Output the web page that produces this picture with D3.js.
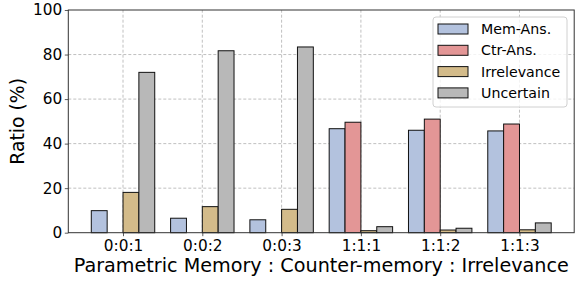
<!DOCTYPE html>
<html>
<head>
<meta charset="utf-8">
<script src="https://cdn.jsdelivr.net/npm/d3@7"></script>
<style>
  body { margin: 0; background: #fff; }
  svg { display: block; font-family: "DejaVu Sans", sans-serif; }
</style>
</head>
<body>
<div id="chart"></div>
<script>
/* Grouped bar chart: answer ratio by evidence mix */

var categories = ['0:0:1', '0:0:2', '0:0:3', '1:1:1', '1:1:2', '1:1:3'];
var seriesNames = ['Mem-Ans.', 'Ctr-Ans.', 'Irrelevance', 'Uncertain'];
var memAns = [9.9, 6.5, 5.8, 46.7, 46.0, 45.7];
var ctrAns = [0, 0, 0, 49.6, 51.0, 48.8];
var irrelevance = [18.1, 11.7, 10.5, 0.9, 1.2, 1.3];
var uncertain = [72.0, 81.7, 83.4, 2.7, 2.0, 4.4];
var yTicks = [0, 20, 40, 60, 80, 100];

var colors = ['#b3c2de', '#e39696', '#d3bb8a', '#b8b8b8'];
var series = [memAns, ctrAns, irrelevance, uncertain];

var width = 575;
var height = 282;
var margin = {left: 68.3, right: 0.8, top: 10, bottom: 49.3};

var svg = d3.select('#chart').append('svg')
  .attr('width', width)
  .attr('height', height);

var x = d3.scaleLinear()
  .domain([-0.69, categories.length - 1 + 0.69])
  .range([margin.left, width - margin.right]);
var y = d3.scaleLinear()
  .domain([0, 100])
  .range([height - margin.bottom, margin.top]);

var barW = 0.2;
var offsets = [-0.3, -0.1, 0.1, 0.3];

// grid
var grid = svg.append('g');
grid.selectAll('.hgrid').data(yTicks.slice(1, -1)).enter()
  .append('line')
  .attr('x1', x.range()[0]).attr('x2', x.range()[1])
  .attr('y1', function(d) { return y(d); })
  .attr('y2', function(d) { return y(d); })
  .attr('stroke', '#b0b0b0').attr('stroke-width', 0.8)
  .attr('stroke-dasharray', '3,2');
grid.selectAll('.vgrid').data(categories).enter()
  .append('line')
  .attr('x1', function(d, i) { return x(i); })
  .attr('x2', function(d, i) { return x(i); })
  .attr('y1', y(0)).attr('y2', y(100))
  .attr('stroke', '#b0b0b0').attr('stroke-width', 0.8)
  .attr('stroke-dasharray', '3,2');

// bars
series.forEach(function(vals, s) {
  svg.append('g').selectAll('rect').data(vals).enter()
    .append('rect')
    .attr('x', function(d, i) { return x(i + offsets[s] - barW / 2); })
    .attr('width', x(barW) - x(0))
    .attr('y', function(d) { return y(d); })
    .attr('height', function(d) { return y(0) - y(d); })
    .attr('fill', colors[s])
    .attr('stroke', '#111')
    .attr('stroke-width', 1);
});

// axes
var xAxis = d3.axisBottom(x)
  .tickValues(d3.range(categories.length))
  .tickFormat(function(i) { return categories[i]; })
  .tickSize(3.5).tickPadding(3.9);
var yAxis = d3.axisLeft(y)
  .tickValues(yTicks)
  .tickSize(3.5).tickPadding(2.5);

var gx = svg.append('g')
  .attr('transform', 'translate(0,' + y(0) + ')')
  .call(xAxis);
var gy = svg.append('g')
  .attr('transform', 'translate(' + margin.left + ',0)')
  .call(yAxis);
[gx, gy].forEach(function(g) {
  g.select('.domain').remove();
  g.selectAll('text').attr('font-size', 15.3).attr('fill', '#000')
    .attr('font-family', '"DejaVu Sans", sans-serif');
  g.selectAll('line').attr('stroke', '#333').attr('stroke-width', 0.8);
});

// frame
svg.append('rect')
  .attr('x', x.range()[0]).attr('y', y(100))
  .attr('width', x.range()[1] - x.range()[0])
  .attr('height', y(0) - y(100))
  .attr('fill', 'none').attr('stroke', '#333').attr('stroke-width', 1);

// labels
svg.append('text')
  .attr('x', (x.range()[0] + x.range()[1]) / 2)
  .attr('y', 271.7)
  .attr('text-anchor', 'middle')
  .attr('font-size', 19.2)
  .text('Parametric Memory : Counter-memory : Irrelevance');

svg.append('text')
  .attr('transform', 'translate(24,' + (y(0) + y(100)) / 2 + ') rotate(-90)')
  .attr('text-anchor', 'middle')
  .attr('font-size', 18.8)
  .text('Ratio (%)');

// legend
var lg = svg.append('g').attr('transform', 'translate(433,17)');
lg.append('rect')
  .attr('width', 134).attr('height', 90)
  .attr('rx', 3).attr('ry', 3)
  .attr('fill', '#fff').attr('fill-opacity', 0.8)
  .attr('stroke', '#d0d0d0').attr('stroke-width', 1);
seriesNames.forEach(function(name, i) {
  var row = lg.append('g').attr('transform', 'translate(0,' + (12 + i * 21.3) + ')');
  row.append('rect')
    .attr('x', 5).attr('y', -5)
    .attr('width', 30).attr('height', 10)
    .attr('fill', colors[i]).attr('stroke', '#111').attr('stroke-width', 1);
  row.append('text')
    .attr('x', 48).attr('y', 0).attr('dy', '0.35em')
    .attr('font-size', 14.2)
    .text(name);
});
</script>
</body>
</html>
